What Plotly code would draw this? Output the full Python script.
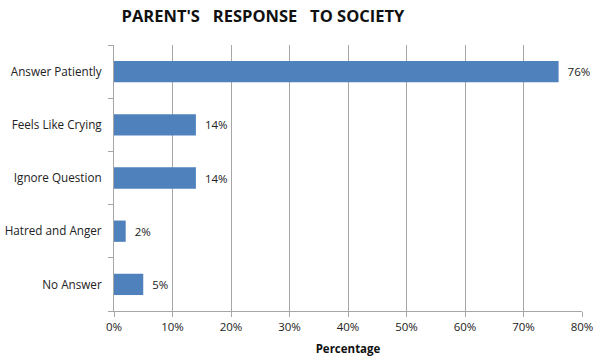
import plotly.graph_objects as go

categories = ["Answer Patiently", "Feels Like Crying", "Ignore Question", "Hatred and Anger", "No Answer"]
values = [76, 14, 14, 2, 5]
tick_vals = [0, 10, 20, 30, 40, 50, 60, 70, 80]
tick_text = ["0%", "10%", "20%", "30%", "40%", "50%", "60%", "70%", "80%"]

fig = go.Figure(go.Bar(
    y=categories, x=values, orientation="h",
    marker=dict(color="#4f81bd", line=dict(width=0)),
    width=0.4,
    text=[f"\u00a0\u00a0{v}%" for v in values], textposition="outside",
    textfont=dict(size=11.5, color="#222222", family="Open Sans"),
    cliponaxis=False,
))

fig.update_layout(
    width=597, height=362,
    margin=dict(l=114, r=15, t=45, b=51, autoexpand=False),
    paper_bgcolor="white", plot_bgcolor="white",
    showlegend=False,
    title=dict(text="<b>PARENT'S&nbsp;&nbsp;&nbsp;RESPONSE&nbsp;&nbsp;&nbsp;TO SOCIETY</b>",
               x=263/597, xanchor="center", y=1-16/362, yanchor="middle",
               font=dict(family="Open Sans", size=16.5, color="#111111")),
    font=dict(family="Open Sans", size=11.5, color="#222222"),
)

fig.update_xaxes(
    range=[0, 80], tickvals=tick_vals, ticktext=tick_text,
    showgrid=True, gridcolor="#a6a6a6", gridwidth=1,
    showline=True, linecolor="#a6a6a6", linewidth=1,
    ticks="outside", ticklen=5, tickcolor="#a6a6a6",
    tickfont=dict(size=11.5, color="#222222"),
    zeroline=False, automargin=False,
    title=dict(text="<b>Percentage</b>", font=dict(size=11.5, color="#111111"), standoff=12),
)
fig.update_yaxes(
    categoryorder="array", categoryarray=categories[::-1],
    showline=True, linecolor="#a6a6a6", linewidth=1,
    ticks="outside", tickson="boundaries", ticklen=5, tickcolor="#a6a6a6",
    tickfont=dict(size=11.7, color="#222222"),
    ticklabelstandoff=9, automargin=False,
)

fig.write_html("out.html", config={"displayModeBar": False},
               post_script="document.body.style.margin='0';document.body.style.overflow='hidden';")
